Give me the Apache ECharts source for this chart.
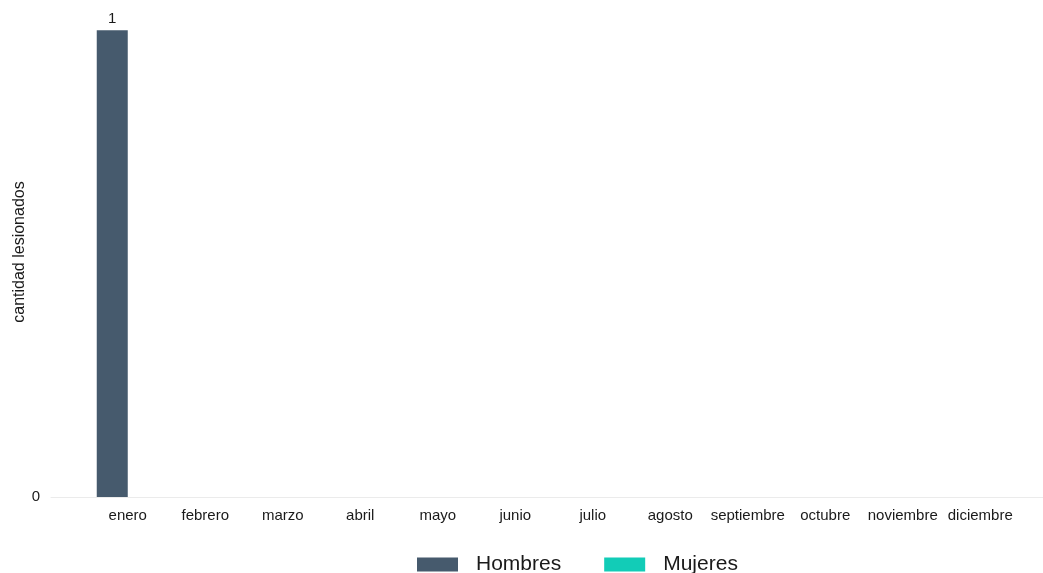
<!DOCTYPE html>
<html>
<head>
<meta charset="utf-8">
<script src="https://cdn.jsdelivr.net/npm/echarts@6/dist/echarts.min.js"></script>
<style>html,body{margin:0;padding:0;background:#fff;}#c{width:1043px;height:573px;}</style>
</head>
<body>
<div id="c"></div>
<script>
const months = ['enero','febrero','marzo','abril','mayo','junio','julio','agosto','septiembre','octubre','noviembre','diciembre'];
const hombres = [1,0,0,0,0,0,0,0,0,0,0,0];
const mujeres = [0,0,0,0,0,0,0,0,0,0,0,0];
const seriesNames = ['Hombres','Mujeres'];
const yTicks = [0];

const FONT = '"Liberation Sans", Arial, sans-serif';
const chart = echarts.init(document.getElementById('c'));
const labelCfg = {
  show: true, position: 'top', color: '#1a1a1a', fontSize: 15, fontFamily: FONT, distance: 4,
  formatter: p => p.value === 0 ? '' : String(p.value)
};
chart.setOption({
  animation: false,
  backgroundColor: '#ffffff',
  textStyle: {fontFamily: FONT},
  grid: [
    {left: 89, right: 24, top: 7, bottom: 76, outerBoundsMode: 'none', containLabel: false},
    {left: 51, right: 0, top: 7, bottom: 76, outerBoundsMode: 'none', containLabel: false}
  ],
  legend: {
    data: seriesNames,
    bottom: -7,
    left: 412,
    itemWidth: 41,
    itemHeight: 14,
    itemGap: 43,
    icon: 'rect',
    textStyle: {fontSize: 21, color: '#1a1a1a', fontFamily: FONT, padding: [0,0,0,13]}
  },
  xAxis: [
    {type: 'category', gridIndex: 0, data: months,
     axisLine: {show: false}, axisTick: {show: false},
     axisLabel: {color: '#1a1a1a', fontSize: 15, fontFamily: FONT, margin: 11, interval: 0}},
    {type: 'value', gridIndex: 1, min: 0, max: 1, show: true,
     axisLine: {show: true, lineStyle: {color: '#ebebeb', width: 1}},
     axisTick: {show: false}, axisLabel: {show: false}, splitLine: {show: false}}
  ],
  yAxis: [
    {type: 'value', gridIndex: 0, min: 0, max: 1.05, show: false},
    {type: 'value', gridIndex: 1, min: 0, max: 1.05, interval: 1,
     name: 'cantidad lesionados', nameLocation: 'middle', nameGap: 23, nameMoveOverlap: false,
     nameTextStyle: {color: '#1a1a1a', fontSize: 16, fontFamily: FONT},
     axisLine: {show: false}, axisTick: {show: false}, splitLine: {show: false},
     axisLabel: {color: '#1a1a1a', fontSize: 15, fontFamily: FONT, margin: 11,
       formatter: v => yTicks.indexOf(v) >= 0 ? String(v) : ''}}
  ],
  series: [
    {name: seriesNames[0], type: 'bar', xAxisIndex: 0, yAxisIndex: 0, data: hombres,
     barWidth: 31, barGap: '0%', itemStyle: {color: '#465a6d'}, label: labelCfg},
    {name: seriesNames[1], type: 'bar', xAxisIndex: 0, yAxisIndex: 0, data: mujeres,
     barWidth: 31, barGap: '0%', itemStyle: {color: '#12ccb7'}, label: labelCfg}
  ]
});
</script>
</body>
</html>
